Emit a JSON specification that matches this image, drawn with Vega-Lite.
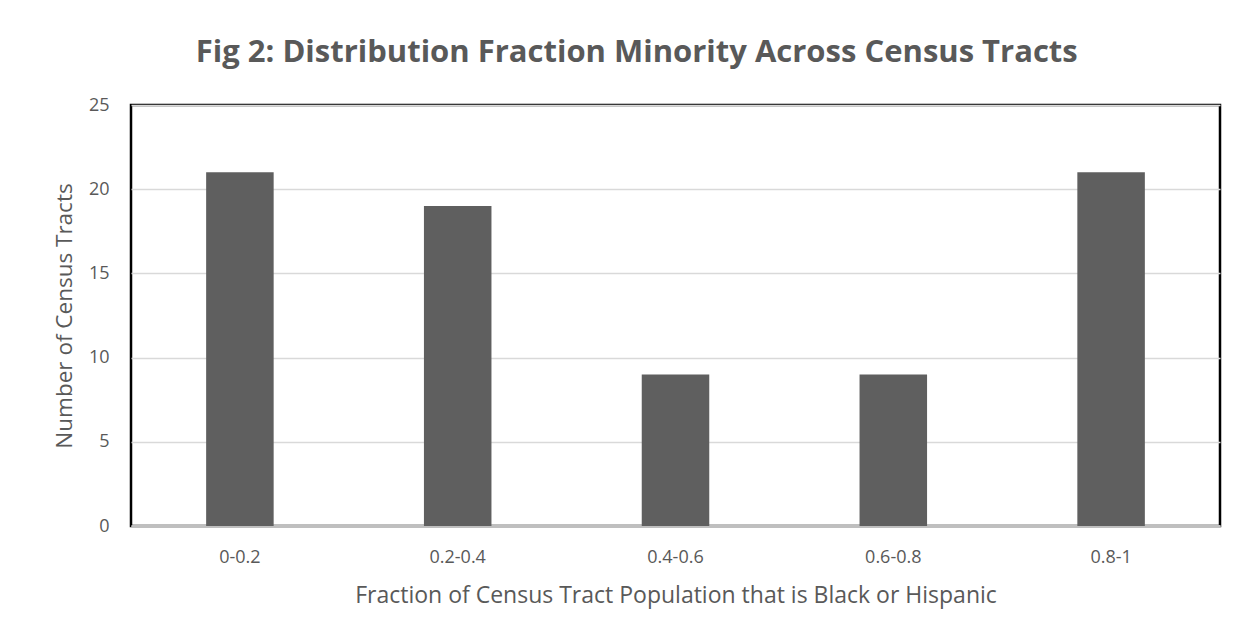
{
  "$schema": "https://vega.github.io/schema/vega-lite/v6.json",
  "width": 1089,
  "height": 421,
  "autosize": {"type": "none"},
  "padding": {"left": 131, "top": 105, "right": 28, "bottom": 116},
  "background": "white",
  "title": {
    "text": "Fig 2: Distribution Fraction Minority Across Census Tracts",
    "font": "Open Sans",
    "fontSize": 31,
    "fontWeight": "bold",
    "color": "#595959",
    "anchor": "middle",
    "frame": "bounds",
    "offset": 27
  },
  "data": {
    "values": [
      {"bin": "0-0.2", "count": 21},
      {"bin": "0.2-0.4", "count": 19},
      {"bin": "0.4-0.6", "count": 9},
      {"bin": "0.6-0.8", "count": 9},
      {"bin": "0.8-1", "count": 21}
    ]
  },
  "mark": {"type": "bar", "color": "#5f5f5f"},
  "encoding": {
    "x": {
      "field": "bin",
      "type": "nominal",
      "sort": null,
      "scale": {"paddingInner": 0.69, "paddingOuter": 0.345},
      "axis": {
        "title": "Fraction of Census Tract Population that is Black or Hispanic",
        "titleFontSize": 23,
        "labelAngle": 0,
        "tickSize": 0,
        "ticks": false,
        "labelPadding": 22,
        "domainColor": "#bfbfbf",
        "domainWidth": 3,
        "titlePadding": 18
      }
    },
    "y": {
      "field": "count",
      "type": "quantitative",
      "scale": {"domain": [0, 25], "nice": false},
      "axis": {
        "title": "Number of Census Tracts",
        "titleFontSize": 22.5,
        "values": [0, 5, 10, 15, 20, 25],
        "tickSize": 0,
        "ticks": false,
        "domain": false,
        "labelPadding": 22,
        "titlePadding": 12,
        "gridColor": "#d9d9d9",
        "gridWidth": 1.5
      }
    }
  },
  "config": {
    "view": {"stroke": "black", "strokeWidth": 2.5},
    "axis": {
      "labelFont": "Open Sans",
      "labelFontSize": 18,
      "labelColor": "#595959",
      "titleFont": "Open Sans",
      "titleFontWeight": "normal",
      "titleColor": "#595959"
    }
  }
}
